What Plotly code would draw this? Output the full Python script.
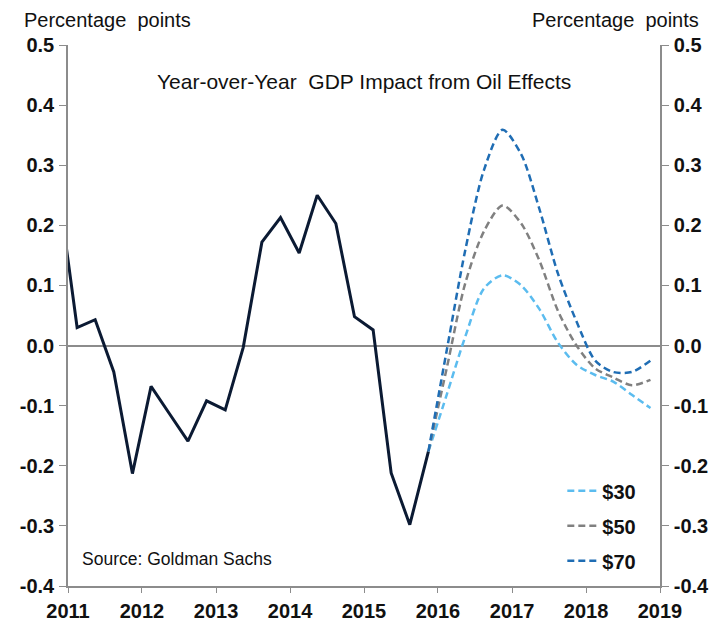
import plotly.graph_objects as go

# Historical quarterly GDP impact (mid-quarter dates)
hist_dates = ["2010-11-15",
              "2011-02-15", "2011-05-15", "2011-08-15", "2011-11-15",
              "2012-02-15", "2012-05-15", "2012-08-15", "2012-11-15",
              "2013-02-15", "2013-05-15", "2013-08-15", "2013-11-15",
              "2014-02-15", "2014-05-15", "2014-08-15", "2014-11-15",
              "2015-02-15", "2015-05-15", "2015-08-15", "2015-11-15"]
hist_values = [0.26,
               0.030, 0.043, -0.044, -0.213,
               -0.068, -0.113, -0.159, -0.092,
               -0.107, -0.003, 0.172, 0.213,
               0.154, 0.250, 0.203, 0.048,
               0.026, -0.212, -0.298, -0.176]

# Scenario projections
proj_dates = ["2015-11-15",
              "2016-02-15", "2016-05-15", "2016-08-15", "2016-11-15",
              "2017-02-15", "2017-05-15", "2017-08-15", "2017-11-15",
              "2018-02-15", "2018-05-15", "2018-08-15", "2018-11-15"]
oil_30 = [-0.176, -0.080, 0.015, 0.095, 0.117, 0.100, 0.061, 0.005, -0.032, -0.049, -0.060, -0.082, -0.104]
oil_50 = [-0.176, -0.035, 0.104, 0.190, 0.233, 0.203, 0.142, 0.058, 0.000, -0.038, -0.053, -0.066, -0.057]
oil_70 = [-0.176, -0.005, 0.159, 0.292, 0.359, 0.318, 0.228, 0.120, 0.040, -0.025, -0.044, -0.044, -0.025]

scenario_names = ["$30", "$50", "$70"]
scenario_colors = ["#5bbcef", "#808080", "#1f6db4"]

y_ticks = [0.5, 0.4, 0.3, 0.2, 0.1, 0.0, -0.1, -0.2, -0.3, -0.4]
y_tick_text = ["0.5", "0.4", "0.3", "0.2", "0.1", "0.0", "-0.1", "-0.2", "-0.3", "-0.4"]
x_tick_years = ["2011", "2012", "2013", "2014", "2015", "2016", "2017", "2018", "2019"]

FONT = "Liberation Sans, Arial, sans-serif"
AXIS_GRAY = "#8c8c8c"
TEXT = "#111111"

fig = go.Figure()

fig.add_trace(go.Scatter(
    x=hist_dates, y=hist_values, mode="lines",
    line=dict(color="#0b1a33", width=3),
    showlegend=False, hoverinfo="skip"))

for name, vals, col in zip(scenario_names, [oil_30, oil_50, oil_70], scenario_colors):
    fig.add_trace(go.Scatter(
        x=proj_dates, y=vals, mode="lines", name=name,
        line=dict(color=col, width=2.5, dash="7px,4px", shape="spline", smoothing=0.8),
        legendgroup=name, showlegend=True, hoverinfo="skip"))

# invisible trace to carry the right-hand axis
fig.add_trace(go.Scatter(
    x=hist_dates, y=hist_values, mode="lines", yaxis="y2",
    line=dict(width=0, color="rgba(0,0,0,0)"),
    showlegend=False, hoverinfo="skip"))

yax_common = dict(
    range=[-0.4, 0.5], tickvals=y_ticks, ticktext=y_tick_text,
    showgrid=False, showline=True, linecolor=AXIS_GRAY, linewidth=1.5,
    ticks="outside", ticklen=7, tickwidth=1.2, tickcolor=AXIS_GRAY,
    ticklabelstandoff=1, automargin=False,
    tickfont=dict(family=FONT, size=20, color=TEXT, weight="bold"),
    fixedrange=True,
)

fig.update_layout(
    width=727, height=622,
    margin=dict(l=68, r=67, t=45, b=36, autoexpand=False),
    paper_bgcolor="white", plot_bgcolor="white",
    font=dict(family=FONT, color=TEXT),
    xaxis=dict(
        type="date", range=["2011-01-01", "2019-01-01"],
        tickvals=[y + "-01-01" for y in x_tick_years], ticktext=x_tick_years,
        showgrid=False, showline=True, linecolor=AXIS_GRAY, linewidth=1.5,
        ticks="outside", ticklen=5, tickwidth=1.2, tickcolor=AXIS_GRAY,
        ticklabelstandoff=1, automargin=False,
        tickfont=dict(family=FONT, size=20, color=TEXT, weight="bold"),
        zeroline=False, fixedrange=True,
    ),
    yaxis=dict(**yax_common, side="left", zeroline=True,
               zerolinecolor=AXIS_GRAY, zerolinewidth=1.5),
    yaxis2=dict(**yax_common, side="right", overlaying="y", zeroline=False),
    legend=dict(
        x=0.835, y=0.212, xanchor="left", yanchor="top",
        font=dict(family=FONT, size=20, color=TEXT, weight="bold"),
        bgcolor="rgba(0,0,0,0)", traceorder="grouped", tracegroupgap=6,
    ),
    showlegend=True,
)

fig.add_annotation(text="Percentage  points", xref="paper", yref="paper",
                   x=-0.078, y=1.0, yshift=25, xanchor="left", yanchor="middle",
                   showarrow=False, font=dict(family=FONT, size=20, color=TEXT))
fig.add_annotation(text="Percentage  points", xref="paper", yref="paper",
                   x=1.07, y=1.0, yshift=25, xanchor="right", yanchor="middle",
                   showarrow=False, font=dict(family=FONT, size=20, color=TEXT))
fig.add_annotation(text="Year-over-Year  GDP Impact from Oil Effects", xref="paper", yref="paper",
                   x=0.5, y=0.932, xanchor="center", yanchor="middle",
                   showarrow=False, font=dict(family=FONT, size=21, color=TEXT))
fig.add_annotation(text="Source: Goldman Sachs", xref="paper", yref="paper",
                   x=0.021, y=0.05, xanchor="left", yanchor="middle",
                   showarrow=False, font=dict(family=FONT, size=17.5, color=TEXT))

fig.write_html("out.html", config={"displayModeBar": False},
               post_script="document.body.style.margin='0';document.body.style.padding='0';")
